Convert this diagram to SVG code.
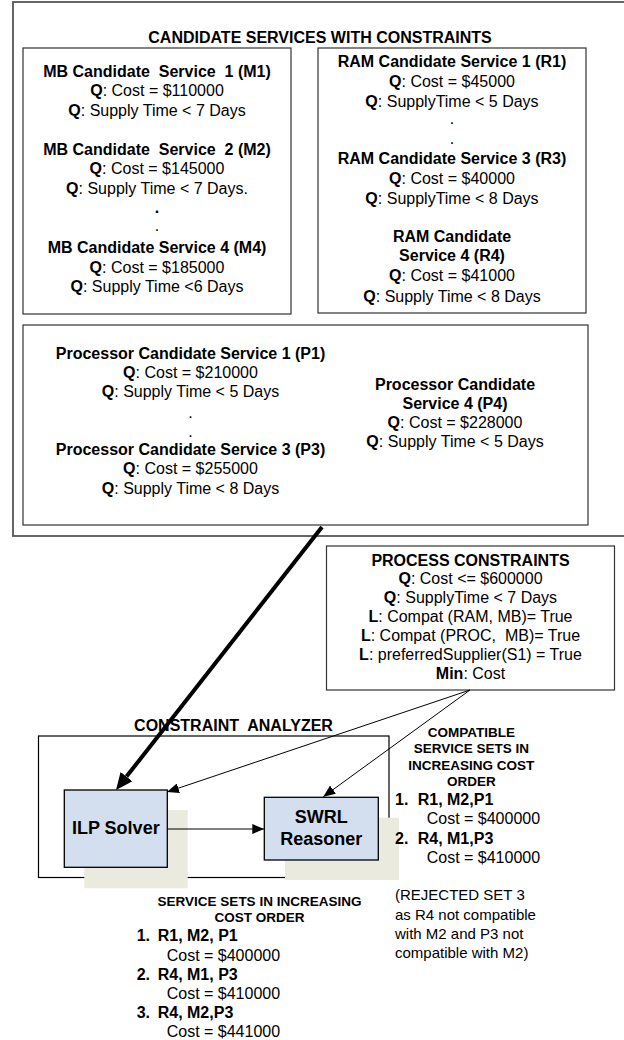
<svg xmlns="http://www.w3.org/2000/svg" width="624" height="1040" viewBox="0 0 624 1040">
<style>
.t{font-family:"Liberation Sans",Arial,sans-serif;font-size:16px;fill:#000}
.b{font-weight:bold}
.c{text-anchor:middle}
.h{font-size:13.5px;font-weight:bold}
.r{font-size:15px}
.big{font-size:18px;font-weight:bold}
.box{fill:#fff;stroke:#333;stroke-width:1.2}
.outer{fill:#fff;stroke:#555;stroke-width:1.8}
.comp{fill:#d3deee;stroke:#000;stroke-width:1.3}
.shadow{fill:#eaeadf;stroke:none}
.ln{stroke:#000;stroke-width:1;fill:none}
</style>
<defs>
<marker id="ah" markerUnits="userSpaceOnUse" markerWidth="12" markerHeight="10" refX="12" refY="5" orient="auto"><path d="M0,0 L12,5 L0,10 z" fill="#000"/></marker>
<marker id="ahT" markerUnits="userSpaceOnUse" markerWidth="17" markerHeight="15" refX="0" refY="7.5" orient="auto"><path d="M0,0 L17,7.5 L0,15 z" fill="#000"/></marker>
</defs>
<rect width="624" height="1040" fill="#fff"/>

<g id="candidates">
<rect class="outer" x="13" y="2" width="614" height="534"/>
<text class="t b c" x="320" y="42.5">CANDIDATE SERVICES WITH CONSTRAINTS</text>
</g>

<g id="mb">
<rect class="box" x="23" y="48" width="268" height="266"/>
<text class="t b c" x="157" y="76.5" xml:space="preserve">MB Candidate  Service  1 (M1)</text>
<text class="t c" x="157" y="96"><tspan class="b">Q</tspan>: Cost = $110000</text>
<text class="t c" x="157" y="115.5"><tspan class="b">Q</tspan>: Supply Time &lt; 7 Days</text>
<text class="t b c" x="157" y="154.5" xml:space="preserve">MB Candidate  Service  2 (M2)</text>
<text class="t c" x="157" y="174"><tspan class="b">Q</tspan>: Cost = $145000</text>
<text class="t c" x="157" y="193.5"><tspan class="b">Q</tspan>: Supply Time &lt; 7 Days.</text>
<text class="t b c" x="157" y="213">.</text>
<text class="t c" x="157" y="231">.</text>
<text class="t b c" x="157" y="253">MB Candidate Service 4 (M4)</text>
<text class="t c" x="157" y="272.5"><tspan class="b">Q</tspan>: Cost = $185000</text>
<text class="t c" x="157" y="292"><tspan class="b">Q</tspan>: Supply Time &lt;6 Days</text>
</g>

<g id="ram">
<rect class="box" x="318" y="48" width="268" height="265"/>
<text class="t b c" x="452" y="66.7">RAM Candidate Service 1 (R1)</text>
<text class="t c" x="452" y="86.5"><tspan class="b">Q</tspan>: Cost = $45000</text>
<text class="t c" x="452" y="106.5"><tspan class="b">Q</tspan>: SupplyTime &lt; 5 Days</text>
<text class="t c" x="452" y="124">.</text>
<text class="t c" x="452" y="144">.</text>
<text class="t b c" x="452" y="164">RAM Candidate Service 3 (R3)</text>
<text class="t c" x="452" y="184"><tspan class="b">Q</tspan>: Cost = $40000</text>
<text class="t c" x="452" y="203.5"><tspan class="b">Q</tspan>: SupplyTime &lt; 8 Days</text>
<text class="t b c" x="452" y="242">RAM Candidate</text>
<text class="t b c" x="452" y="261">Service 4 (R4)</text>
<text class="t c" x="452" y="281"><tspan class="b">Q</tspan>: Cost = $41000</text>
<text class="t c" x="452" y="301.5"><tspan class="b">Q</tspan>: Supply Time &lt; 8 Days</text>
</g>

<g id="processor">
<rect class="box" x="23" y="325" width="565" height="200"/>
<text class="t b c" x="190.5" y="358.5">Processor Candidate Service 1 (P1)</text>
<text class="t c" x="190.5" y="377.7"><tspan class="b">Q</tspan>: Cost = $210000</text>
<text class="t c" x="190.5" y="396.7"><tspan class="b">Q</tspan>: Supply Time &lt; 5 Days</text>
<text class="t c" x="190.5" y="418">.</text>
<text class="t c" x="190.5" y="437">.</text>
<text class="t b c" x="190.5" y="454.5">Processor Candidate Service 3 (P3)</text>
<text class="t c" x="190.5" y="473.5"><tspan class="b">Q</tspan>: Cost = $255000</text>
<text class="t c" x="190.5" y="494"><tspan class="b">Q</tspan>: Supply Time &lt; 8 Days</text>
<text class="t b c" x="455" y="390">Processor Candidate</text>
<text class="t b c" x="455" y="409.3">Service 4 (P4)</text>
<text class="t c" x="455" y="428.3"><tspan class="b">Q</tspan>: Cost = $228000</text>
<text class="t c" x="455" y="447.3"><tspan class="b">Q</tspan>: Supply Time &lt; 5 Days</text>
</g>

<g id="process-constraints">
<rect class="box" x="326.5" y="546" width="288" height="144"/>
<text class="t b c" x="470.5" y="565.7">PROCESS CONSTRAINTS</text>
<text class="t c" x="470.5" y="584"><tspan class="b">Q</tspan>: Cost &lt;= $600000</text>
<text class="t c" x="470.5" y="603"><tspan class="b">Q</tspan>: SupplyTime &lt; 7 Days</text>
<text class="t c" x="470.5" y="622"><tspan class="b">L</tspan>: Compat (RAM, MB)= True</text>
<text class="t c" x="470.5" y="641" xml:space="preserve"><tspan class="b">L</tspan>: Compat (PROC,  MB)= True</text>
<text class="t c" x="470.5" y="660"><tspan class="b">L</tspan>: preferredSupplier(S1) = True</text>
<text class="t c" x="470.5" y="679.3"><tspan class="b">Min</tspan>: Cost</text>
</g>

<g id="constraint-analyzer">
<rect class="box" x="38.5" y="736" width="350.5" height="141.5" style="stroke:#000"/>
<text class="t b c" x="233.5" y="730.7" xml:space="preserve">CONSTRAINT  ANALYZER</text>
</g>

<g id="ilp-solver">
<rect class="shadow" x="84.3" y="810" width="103.4" height="78.3"/>
<rect class="comp" x="64.3" y="790" width="103" height="77.3"/>
<text class="t big c" x="115.8" y="834.3">ILP Solver</text>
</g>

<g id="swrl-reasoner">
<rect class="shadow" x="285" y="817.7" width="114" height="62.3"/>
<rect class="comp" x="264.3" y="797.3" width="114" height="62.7"/>
<text class="t big c" x="321.3" y="823.3">SWRL</text>
<text class="t big c" x="321.3" y="845">Reasoner</text>
</g>

<g id="compatible-sets">
<text class="t h c" x="471.3" y="736.5">COMPATIBLE</text>
<text class="t h c" x="471.3" y="753">SERVICE SETS IN</text>
<text class="t h c" x="471.3" y="769.5">INCREASING COST</text>
<text class="t h c" x="471.3" y="786">ORDER</text>
<text class="t b" x="395" y="805">1.</text>
<text class="t b" x="417.7" y="805">R1, M2,P1</text>
<text class="t" x="426.7" y="823.5">Cost = $400000</text>
<text class="t b" x="395" y="843.5">2.</text>
<text class="t b" x="417.7" y="843.5">R4, M1,P3</text>
<text class="t" x="426.7" y="862.5">Cost = $410000</text>
<text class="t r" x="395" y="900">(REJECTED SET 3</text>
<text class="t r" x="395" y="919.5">as R4 not compatible</text>
<text class="t r" x="395" y="939">with M2 and P3 not</text>
<text class="t r" x="395" y="958">compatible with M2)</text>
</g>

<g id="service-sets">
<text class="t h c" x="259.5" y="906">SERVICE SETS IN INCREASING</text>
<text class="t h c" x="259.5" y="922">COST ORDER</text>
<text class="t b" x="136.7" y="941">1.</text>
<text class="t b" x="157.7" y="941">R1, M2, P1</text>
<text class="t" x="166.7" y="961">Cost = $400000</text>
<text class="t b" x="136.7" y="980">2.</text>
<text class="t b" x="157.7" y="980">R4, M1, P3</text>
<text class="t" x="166.7" y="999.3">Cost = $410000</text>
<text class="t b" x="136.7" y="1018.3">3.</text>
<text class="t b" x="157.7" y="1018.3">R4, M2,P3</text>
<text class="t" x="166.7" y="1037.3">Cost = $441000</text>
</g>

<g id="connectors">
<line x1="322" y1="527" x2="126.5" y2="776.6" stroke="#000" stroke-width="4" marker-end="url(#ahT)"/>
<line class="ln" x1="470" y1="690" x2="167" y2="792" marker-end="url(#ah)"/>
<line class="ln" x1="470" y1="690" x2="323.3" y2="796.7" marker-end="url(#ah)"/>
<line class="ln" x1="167.3" y1="829" x2="264.3" y2="829" marker-end="url(#ah)"/>
</g>
</svg>
